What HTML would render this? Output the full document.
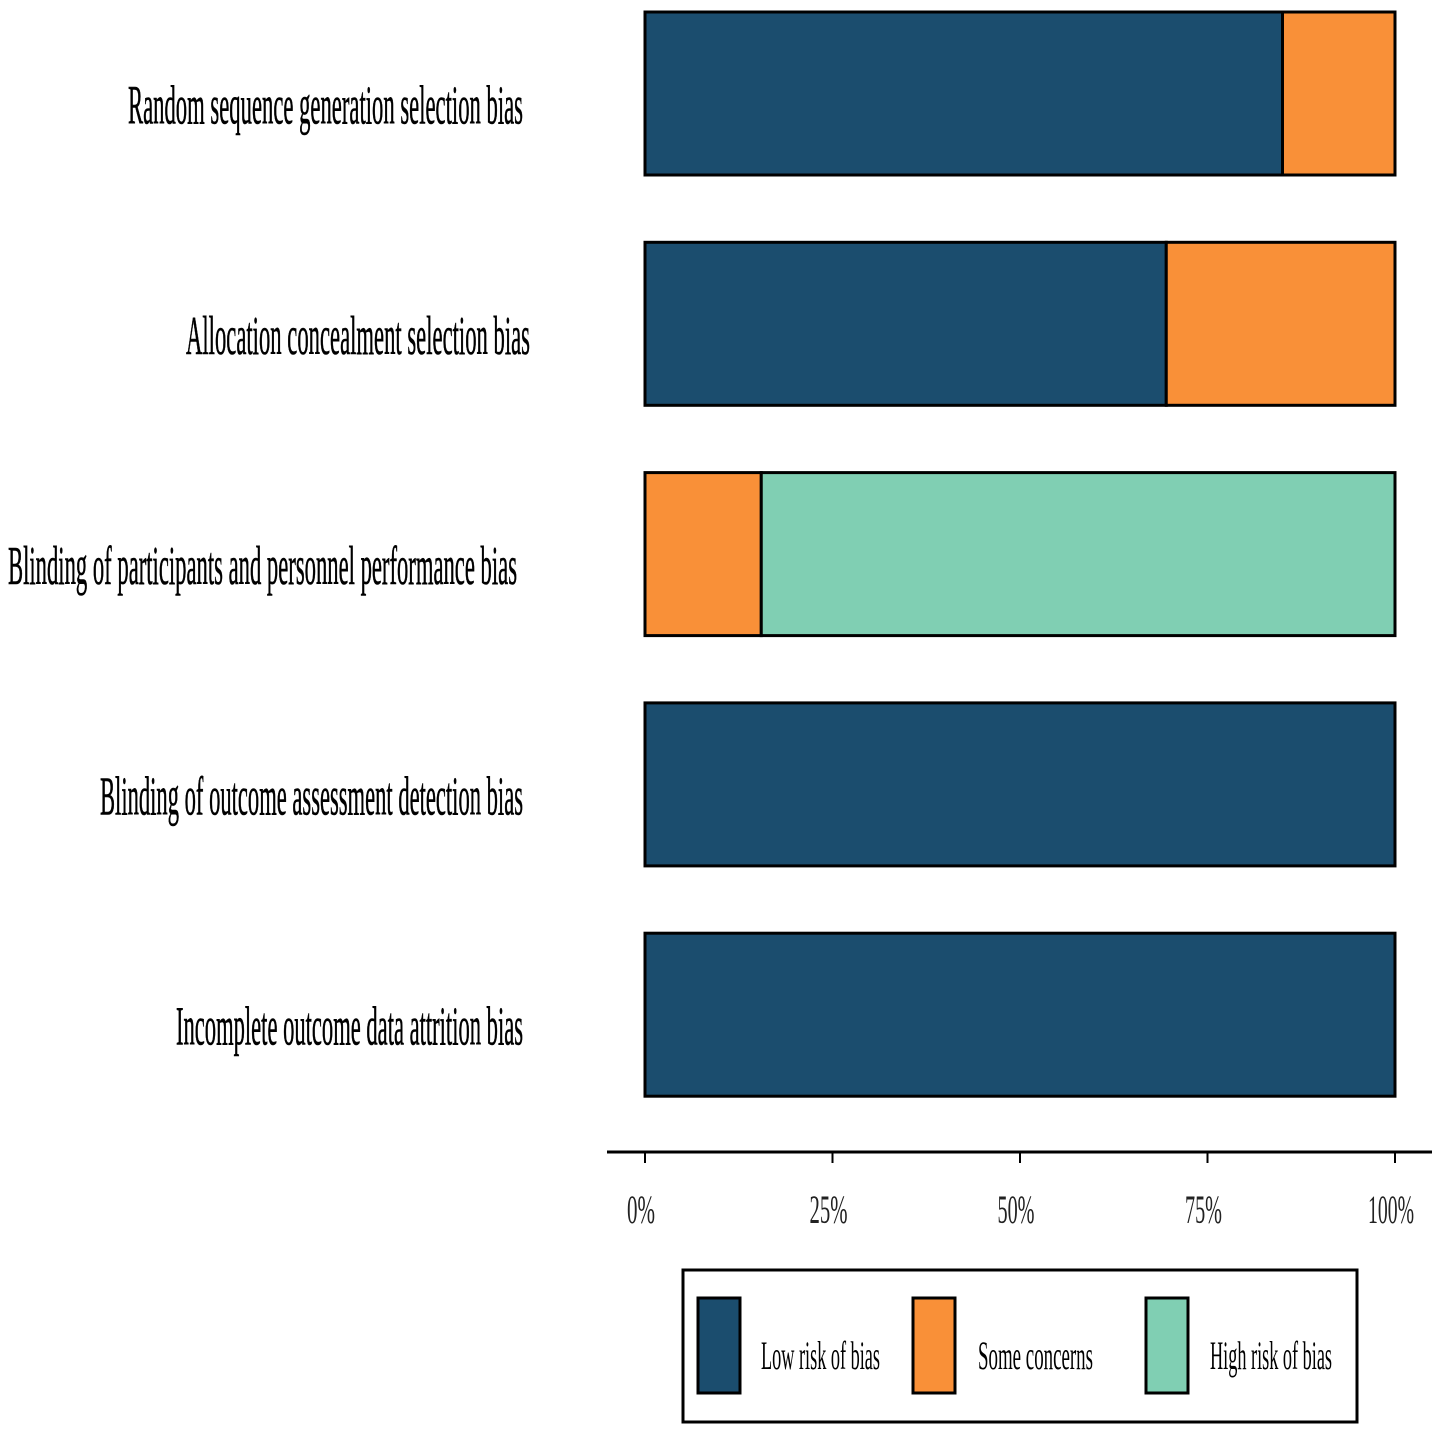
<!DOCTYPE html>
<html><head><meta charset="utf-8"><style>
html,body{margin:0;padding:0;background:#fff;}
svg{display:block;font-family:"Liberation Serif",serif;}
</style></head><body>
<svg id="chart" width="1441" height="1434" xmlns="http://www.w3.org/2000/svg">
<g id="bars"></g>
<g id="labels"></g>
<g id="axis"></g>
<g id="legend">
<rect x="683" y="1270" width="674" height="152" fill="#fff" stroke="#000" stroke-width="3"/>
<rect x="698" y="1298" width="42" height="95" fill="#1b4d6e" stroke="#000" stroke-width="3"/>
<text x="761" y="1369" font-size="40" textLength="119" lengthAdjust="spacingAndGlyphs">Low risk of bias</text>
<rect x="913" y="1298" width="42" height="95" fill="#f99038" stroke="#000" stroke-width="3"/>
<text x="978" y="1369" font-size="40" textLength="115" lengthAdjust="spacingAndGlyphs">Some concerns</text>
<rect x="1146" y="1298" width="42" height="95" fill="#80cfb3" stroke="#000" stroke-width="3"/>
<text x="1210" y="1369" font-size="40" textLength="122" lengthAdjust="spacingAndGlyphs">High risk of bias</text>
</g>
</svg>
<script>
const categories=["Random sequence generation selection bias","Allocation concealment selection bias","Blinding of participants and personnel performance bias","Blinding of outcome assessment detection bias","Incomplete outcome data attrition bias"];
const lowRisk=[85,69.5,0,100,100];
const someConcerns=[15,30.5,15.5,0,0];
const highRisk=[0,0,84.5,0,0];
const tickValues=[0,25,50,75,100];
const tickLabels=["0%","25%","50%","75%","100%"];
const labelWidths=[395,344,509,423,347];
const labelEnds=[523,530,517,523,523];
const tickWidths=[28,38,37,37,46];
const NS="http://www.w3.org/2000/svg";
const x0=645,x1=1395;
function xs(v){return x0+(x1-x0)*v/100;}
function yTop(i){return 12+i*230.3;}
const barH=163;
const colors=["#1b4d6e","#f99038","#80cfb3"];
const series=[lowRisk,someConcerns,highRisk];
const names=["low","some","high"];
const bars=document.getElementById('bars');
const labels=document.getElementById('labels');
categories.forEach((c,i)=>{
  let acc=0;
  series.forEach((s,k)=>{
    const v=s[i];
    if(v>0){
      const r=document.createElementNS(NS,'rect');
      r.setAttribute('x',xs(acc));r.setAttribute('y',yTop(i));
      r.setAttribute('width',xs(acc+v)-xs(acc));r.setAttribute('height',barH);
      r.setAttribute('fill',colors[k]);r.setAttribute('stroke','#000');r.setAttribute('stroke-width','3');
      
      
      bars.appendChild(r);
    }
    acc+=v;
  });
  const t=document.createElementNS(NS,'text');
  t.setAttribute('x',labelEnds[i]);t.setAttribute('y',yTop(i)+barH/2+30);
  t.setAttribute('text-anchor','end');t.setAttribute('font-size','55');
  t.setAttribute('stroke','#000');t.setAttribute('stroke-width','0.6');
  t.setAttribute('textLength',labelWidths[i]);t.setAttribute('lengthAdjust','spacingAndGlyphs');
  t.textContent=c;
  
  
  labels.appendChild(t);
});
const axis=document.getElementById('axis');
const line=document.createElementNS(NS,'line');
line.setAttribute('x1',607);line.setAttribute('x2',1432);line.setAttribute('y1',1152);line.setAttribute('y2',1152);
line.setAttribute('stroke','#000');line.setAttribute('stroke-width','3');


axis.appendChild(line);
tickValues.forEach((v,i)=>{
  const tk=document.createElementNS(NS,'line');
  tk.setAttribute('x1',xs(v));tk.setAttribute('x2',xs(v));tk.setAttribute('y1',1152);tk.setAttribute('y2',1163);
  tk.setAttribute('stroke','#000');tk.setAttribute('stroke-width','2');
  
  
  axis.appendChild(tk);
  const t=document.createElementNS(NS,'text');
  t.setAttribute('x',xs(v)-4);t.setAttribute('y',1223);t.setAttribute('text-anchor','middle');
  t.setAttribute('font-size','40');t.setAttribute('fill','#222');
  t.setAttribute('textLength',tickWidths[i]);t.setAttribute('lengthAdjust','spacingAndGlyphs');
  t.textContent=tickLabels[i];
  
  
  axis.appendChild(t);
});
</script>
</body></html>
